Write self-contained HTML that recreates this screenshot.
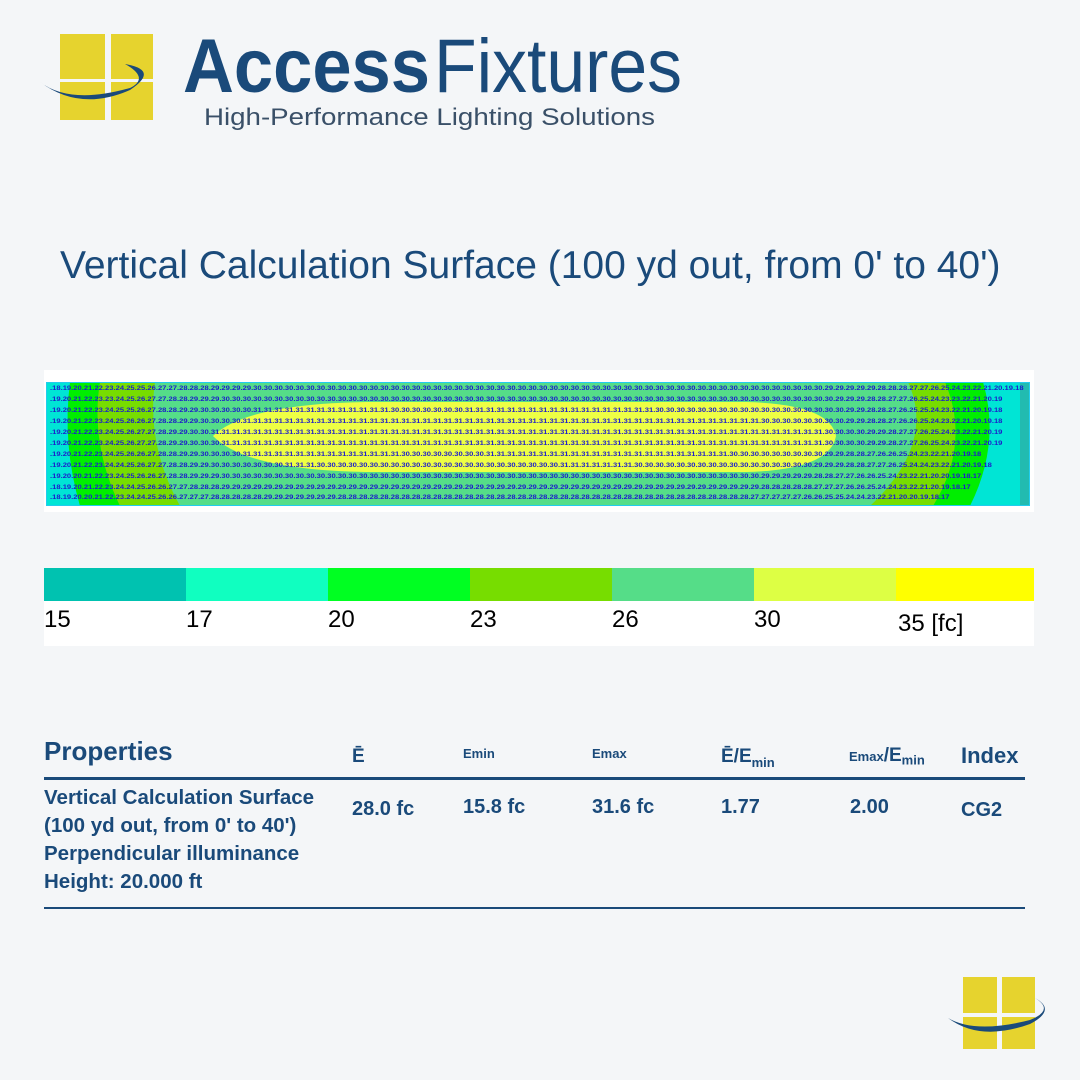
<!DOCTYPE html>
<html><head><meta charset="utf-8"><style>
body{margin:0;width:1080px;height:1080px;background:#f4f6f8;position:relative;overflow:hidden;font-family:"Liberation Sans",sans-serif}
.a{position:absolute}
.row{position:absolute;left:50px;font-size:6.35px;color:#1c1ccc;white-space:nowrap;font-weight:bold;transform:scaleX(1.2);transform-origin:0 0}
.h{color:#1a4a7a;font-weight:bold;position:absolute}
</style></head><body>
<!-- logo -->
<svg class="a" style="left:0;top:0" width="720" height="140">
<rect x="60" y="34" width="45" height="45" fill="#e6d32e"/><rect x="111" y="34" width="42" height="45" fill="#e6d32e"/>
<rect x="60" y="82" width="45" height="38" fill="#e6d32e"/><rect x="111" y="82" width="42" height="38" fill="#e6d32e"/>
<path d="M40 82 Q70 105 130 88 Q150 78 125 64 Q160 70 130 90 Q80 112 40 82Z" fill="#1a4a7a"/>
<text x="183" y="92" font-family="Liberation Sans" font-weight="bold" font-size="76" fill="#1a4a7a" textLength="247" lengthAdjust="spacingAndGlyphs">Access</text>
<text x="434" y="92" font-family="Liberation Sans" font-size="76" fill="#1a4a7a" textLength="248" lengthAdjust="spacingAndGlyphs">Fixtures</text>
<text x="204" y="125" font-family="Liberation Sans" font-size="24" fill="#3a5068" textLength="451" lengthAdjust="spacingAndGlyphs">High-Performance Lighting Solutions</text>
</svg>
<div class="a" style="left:60px;top:244px;font-size:39px;color:#1a4a7a">Vertical Calculation Surface (100 yd out, from 0' to 40')</div>
<!-- heatmap -->
<div class="a" style="left:44px;top:370px;width:990px;height:142px;background:#fff"></div>
<svg class="a" style="left:46px;top:382px" width="984" height="124">
<rect width="984" height="124" fill="#55dd88"/>
<path d="M0 0 L109 0 Q100 62 134 124 L0 124Z" fill="#77dd00"/>
<path d="M0 0 L54 0 Q44 62 74 124 L0 124Z" fill="#00ee00"/>
<path d="M0 0 L24 0 Q16 62 34 124 L0 124Z" fill="#00e5d5"/>
<path d="M862 0 Q890 62 824 124 L984 124 L984 0Z" fill="#77dd00"/>
<path d="M899 0 Q925 62 887 124 L984 124 L984 0Z" fill="#00ee00"/>
<path d="M937 0 Q955 62 924 124 L984 124 L984 0Z" fill="#00e5d5"/>
<rect x="974" y="0" width="10" height="124" fill="#22bbb0"/>
<path d="M167 54 Q200 22 320 20 L700 20 Q784 22 790 54 Q784 88 700 90 L320 90 Q200 88 167 54Z" fill="#eeff44"/>
<rect x="0.5" y="0.5" width="983" height="123" fill="none" stroke="#22ccee"/>
</svg>
<div class="row" style="top:385px">.18.19.20.21.22.23.24.25.25.26.27.27.28.28.28.29.29.29.29.30.30.30.30.30.30.30.30.30.30.30.30.30.30.30.30.30.30.30.30.30.30.30.30.30.30.30.30.30.30.30.30.30.30.30.30.30.30.30.30.30.30.30.30.30.30.30.30.30.30.30.30.30.30.29.29.29.29.29.28.28.28.27.27.26.25.24.23.22.21.20.19.18</div>
<div class="row" style="top:396px">.19.20.21.22.23.23.24.25.26.27.27.28.28.29.29.29.30.30.30.30.30.30.30.30.30.30.30.30.30.30.30.30.30.30.30.30.30.30.30.30.30.30.30.30.30.30.30.30.30.30.30.30.30.30.30.30.30.30.30.30.30.30.30.30.30.30.30.30.30.30.30.30.30.30.29.29.29.28.28.27.27.26.25.24.23.23.22.21.20.19</div>
<div class="row" style="top:407px">.19.20.21.22.23.24.25.25.26.27.28.28.29.29.30.30.30.30.30.31.31.31.31.31.31.31.31.31.31.31.31.31.30.30.30.30.30.30.30.31.31.31.31.31.31.31.31.31.31.31.31.31.31.31.31.31.31.30.30.30.30.30.30.30.30.30.30.30.30.30.30.30.30.30.30.29.29.28.28.27.26.25.25.24.23.22.21.20.19.18</div>
<div class="row" style="top:418px">.19.20.21.22.23.24.25.26.26.27.28.28.29.29.30.30.30.30.31.31.31.31.31.31.31.31.31.31.31.31.31.31.31.31.31.31.31.31.31.31.31.31.31.31.31.31.31.31.31.31.31.31.31.31.31.31.31.31.31.31.31.31.31.31.31.31.31.30.30.30.30.30.30.30.30.29.29.28.28.27.26.26.25.24.23.22.21.20.19.18</div>
<div class="row" style="top:429px">.19.20.21.22.23.24.25.26.27.27.28.29.29.30.30.31.31.31.31.31.31.31.31.31.31.31.31.31.31.31.31.31.31.31.31.31.31.31.31.31.31.31.31.31.31.31.31.31.31.31.31.31.31.31.31.31.31.31.31.31.31.31.31.31.31.31.31.31.31.31.31.31.31.30.30.30.30.29.29.28.27.27.26.25.24.23.22.21.20.19</div>
<div class="row" style="top:440px">.19.20.21.22.23.24.25.26.27.27.28.29.29.30.30.30.31.31.31.31.31.31.31.31.31.31.31.31.31.31.31.31.31.31.31.31.31.31.31.31.31.31.31.31.31.31.31.31.31.31.31.31.31.31.31.31.31.31.31.31.31.31.31.31.31.31.31.31.31.31.31.31.31.30.30.30.30.29.29.28.27.27.26.25.24.23.22.21.20.19</div>
<div class="row" style="top:451px">.19.20.21.22.23.24.25.26.26.27.28.28.29.29.30.30.30.30.31.31.31.31.31.31.31.31.31.31.31.31.31.31.31.30.30.30.30.30.30.30.30.31.31.31.31.31.31.31.31.31.31.31.31.31.31.31.31.31.31.31.31.31.31.31.30.30.30.30.30.30.30.30.30.29.29.28.28.27.26.26.25.24.23.22.21.20.19.18</div>
<div class="row" style="top:462px">.19.20.21.22.23.24.24.25.26.27.27.28.28.29.29.30.30.30.30.30.30.30.31.31.31.30.30.30.30.30.30.30.30.30.30.30.30.30.30.30.30.30.30.30.30.30.30.30.31.31.31.31.31.31.31.30.30.30.30.30.30.30.30.30.30.30.30.30.30.30.30.30.29.29.29.28.28.27.27.26.25.24.24.23.22.21.20.19.18</div>
<div class="row" style="top:473px">.19.20.20.21.22.23.24.25.26.26.27.28.28.29.29.29.30.30.30.30.30.30.30.30.30.30.30.30.30.30.30.30.30.30.30.30.30.30.30.30.30.30.30.30.30.30.30.30.30.30.30.30.30.30.30.30.30.30.30.30.30.30.30.30.30.30.30.29.29.29.29.29.28.28.27.27.26.26.25.24.23.22.21.20.20.19.18.17</div>
<div class="row" style="top:484px">.18.19.20.21.22.23.24.24.25.26.26.27.27.28.28.28.29.29.29.29.29.29.29.29.29.29.29.29.29.29.29.29.29.29.29.29.29.29.29.29.29.29.29.29.29.29.29.29.29.29.29.29.29.29.29.29.29.29.29.29.29.29.29.29.29.29.29.28.28.28.28.28.27.27.27.26.26.25.24.24.23.22.21.20.19.18.17</div>
<div class="row" style="top:494px">.18.19.20.20.21.22.23.24.24.25.26.26.27.27.27.28.28.28.28.28.29.29.29.29.29.29.29.28.28.28.28.28.28.28.28.28.28.28.28.28.28.28.28.28.28.28.28.28.28.28.28.28.28.28.28.28.28.28.28.28.28.28.28.28.28.28.27.27.27.27.27.26.26.25.25.24.24.23.22.21.20.20.19.18.17</div>
<!-- legend -->
<div class="a" style="left:44px;top:568px;width:990px;height:78px;background:#fff"></div>
<div class="a" style="left:44px;top:568px;display:flex;height:33px">
<div style="width:142px;background:#00c2b0"></div><div style="width:142px;background:#10ffc0"></div><div style="width:142px;background:#00ff22"></div><div style="width:142px;background:#77dd00"></div><div style="width:142px;background:#55dd88"></div><div style="width:142px;background:#ddff44"></div><div style="width:138px;background:#ffff00"></div></div>
<div class="a" style="top:606px;left:44px;font-size:24px">15</div>
<div class="a" style="top:606px;left:186px;font-size:24px">17</div>
<div class="a" style="top:606px;left:328px;font-size:24px">20</div>
<div class="a" style="top:606px;left:470px;font-size:24px">23</div>
<div class="a" style="top:606px;left:612px;font-size:24px">26</div>
<div class="a" style="top:606px;left:754px;font-size:24px">30</div>
<div class="a" style="top:610px;left:898px;font-size:24px">35 [fc]</div>
<!-- table -->
<div class="h" style="left:44px;top:736px;font-size:26px">Properties</div>
<div class="h" style="left:352px;top:746px;font-size:19px">Ē</div>
<div class="h" style="left:463px;top:746px;font-size:13px">Emin</div>
<div class="h" style="left:592px;top:746px;font-size:13px">Emax</div>
<div class="h" style="left:721px;top:746px;font-size:19px">Ē/E<sub style="font-size:13px">min</sub></div>
<div class="h" style="left:849px;top:745px;font-size:13px">Emax<span style="font-size:19px">/E</span><sub style="font-size:13px">min</sub></div>
<div class="h" style="left:961px;top:743px;font-size:22px">Index</div>
<div class="a" style="left:44px;top:777px;width:981px;height:3px;background:#1a4a7a"></div>
<div class="h" style="left:44px;top:784px;font-size:20.5px;line-height:28px">Vertical Calculation Surface<br>(100 yd out, from 0' to 40')<br>Perpendicular illuminance<br>Height: 20.000 ft</div>
<div class="h" style="left:352px;top:798px;font-size:20px">28.0 fc</div>
<div class="h" style="left:463px;top:796px;font-size:20px">15.8 fc</div>
<div class="h" style="left:592px;top:796px;font-size:20px">31.6 fc</div>
<div class="h" style="left:721px;top:796px;font-size:20px">1.77</div>
<div class="h" style="left:850px;top:796px;font-size:20px">2.00</div>
<div class="h" style="left:961px;top:799px;font-size:20px">CG2</div>
<div class="a" style="left:44px;top:907px;width:981px;height:2px;background:#1a4a7a"></div>
<!-- small logo -->
<svg class="a" style="left:945px;top:970px" width="110" height="85">
<rect x="18" y="7" width="34" height="36" fill="#e6d32e"/><rect x="57" y="7" width="33" height="36" fill="#e6d32e"/>
<rect x="18" y="47" width="34" height="32" fill="#e6d32e"/><rect x="57" y="47" width="33" height="32" fill="#e6d32e"/>
<path d="M3 48 Q30 64 85 50 Q110 40 90 28 Q112 40 85 54 Q35 72 3 48Z" fill="#1a4a7a"/>
</svg>
</body></html>
